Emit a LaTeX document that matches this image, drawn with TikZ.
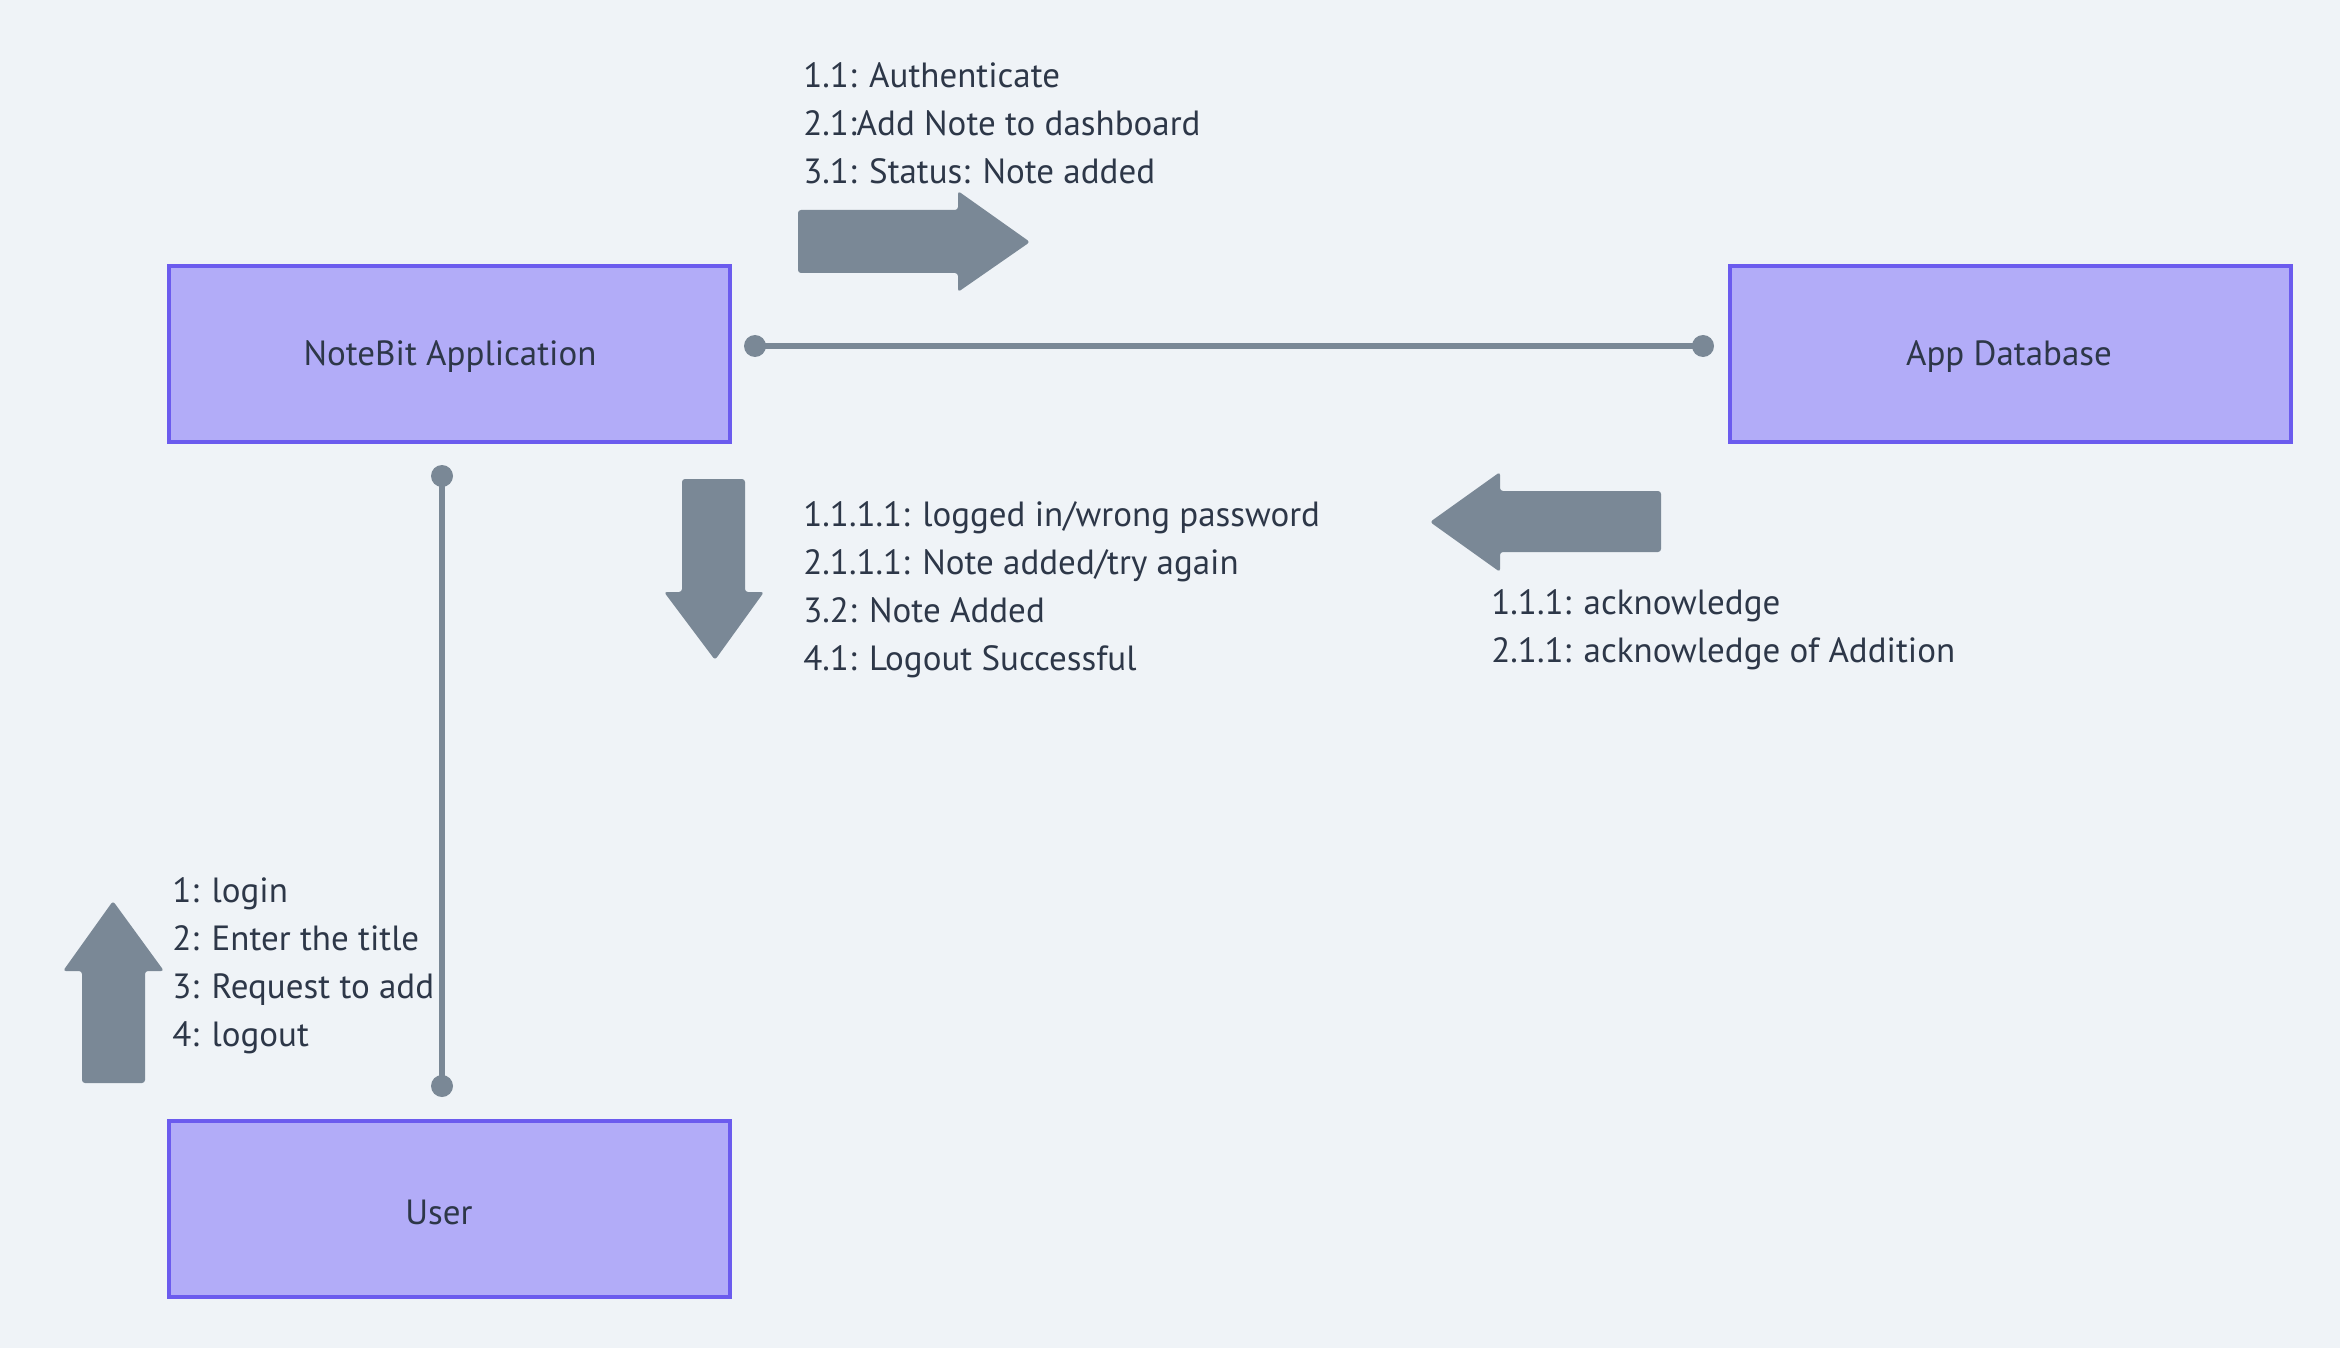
\documentclass[tikz,border=0pt]{standalone}
\usepackage{fontspec}
\setmainfont{PT Sans}
\definecolor{bg}{HTML}{EFF3F7}
\definecolor{boxfill}{HTML}{B2ACF8}
\definecolor{boxline}{HTML}{6B5BEE}
\definecolor{conn}{HTML}{7A8896}
\definecolor{txt}{HTML}{2D3748}
\begin{document}
\begin{tikzpicture}[x=0.5pt,y=-0.5pt,
  obj/.style={draw=boxline,line width=2.2pt,fill=boxfill,minimum width=280.5pt,minimum height=88pt,inner sep=0pt},
  objtext/.style={inner sep=0pt,text=txt,font=\fontsize{17.5}{24}\selectfont},
  lbl/.style={align=left,anchor=west,inner sep=0pt,text=txt,font=\fontsize{17.5}{24}\selectfont},
  link/.style={draw=conn,line width=3pt},
  dot/.style={circle,fill=conn,minimum size=11pt,inner sep=0pt},
  blockarrow/.style={fill=conn,rounded corners=1.5pt}]
\fill[bg] (0,0) rectangle (2340,1348);
\useasboundingbox (0,0) rectangle (2340,1348);
% objects
\node[obj] (nb) at (449.5,354) {};
\node[obj] (db) at (2010.5,354) {};
\node[obj] (us) at (449.5,1209) {};
\node[objtext] (nbt) at (450,357) {NoteBit Application};
\node[objtext] (dbt) at (2009,357) {App Database};
\node[objtext] (ust) at (439,1212) {User};
% connectors
\node[dot] (d1) at (755,346) {};
\node[dot] (d2) at (1703,346) {};
\node[dot] (d3) at (442,476) {};
\node[dot] (d4) at (442,1086) {};
\draw[link] (d1.center) -- (d2.center);
\draw[link] (d3.center) -- (d4.center);
% block arrows
\fill[blockarrow] (798,210) -- (958,210) -- (958,191) -- (1030,242) -- (958,292) -- (958,273) -- (798,273) -- cycle;
\fill[blockarrow] (682,479) -- (745,479) -- (745,592) -- (764,592) -- (715,660) -- (664,592) -- (682,592) -- cycle;
\fill[blockarrow] (1661,491) -- (1661,552) -- (1500,552) -- (1500,572) -- (1430,522) -- (1500,472) -- (1500,491) -- cycle;
\fill[blockarrow] (82,1083) -- (82,971) -- (63,971) -- (113,901) -- (164,971) -- (145,971) -- (145,1083) -- cycle;
% labels
\node[lbl] (t1) at (803,123.5) {1.1: Authenticate\\2.1:Add Note to dashboard\\3.1: Status: Note added};
\node[lbl] (t2) at (803,589.5) {1.1.1.1: logged in/wrong password\\2.1.1.1: Note added/try again\\3.2: Note Added\\4.1: Logout Successful};
\node[lbl] (t3) at (1491,630) {1.1.1: acknowledge\\2.1.1: acknowledge of Addition};
\node[lbl] (t4) at (172,965.5) {1: login\\2: Enter the title\\3: Request to add\\4: logout};
\end{tikzpicture}
\end{document}
